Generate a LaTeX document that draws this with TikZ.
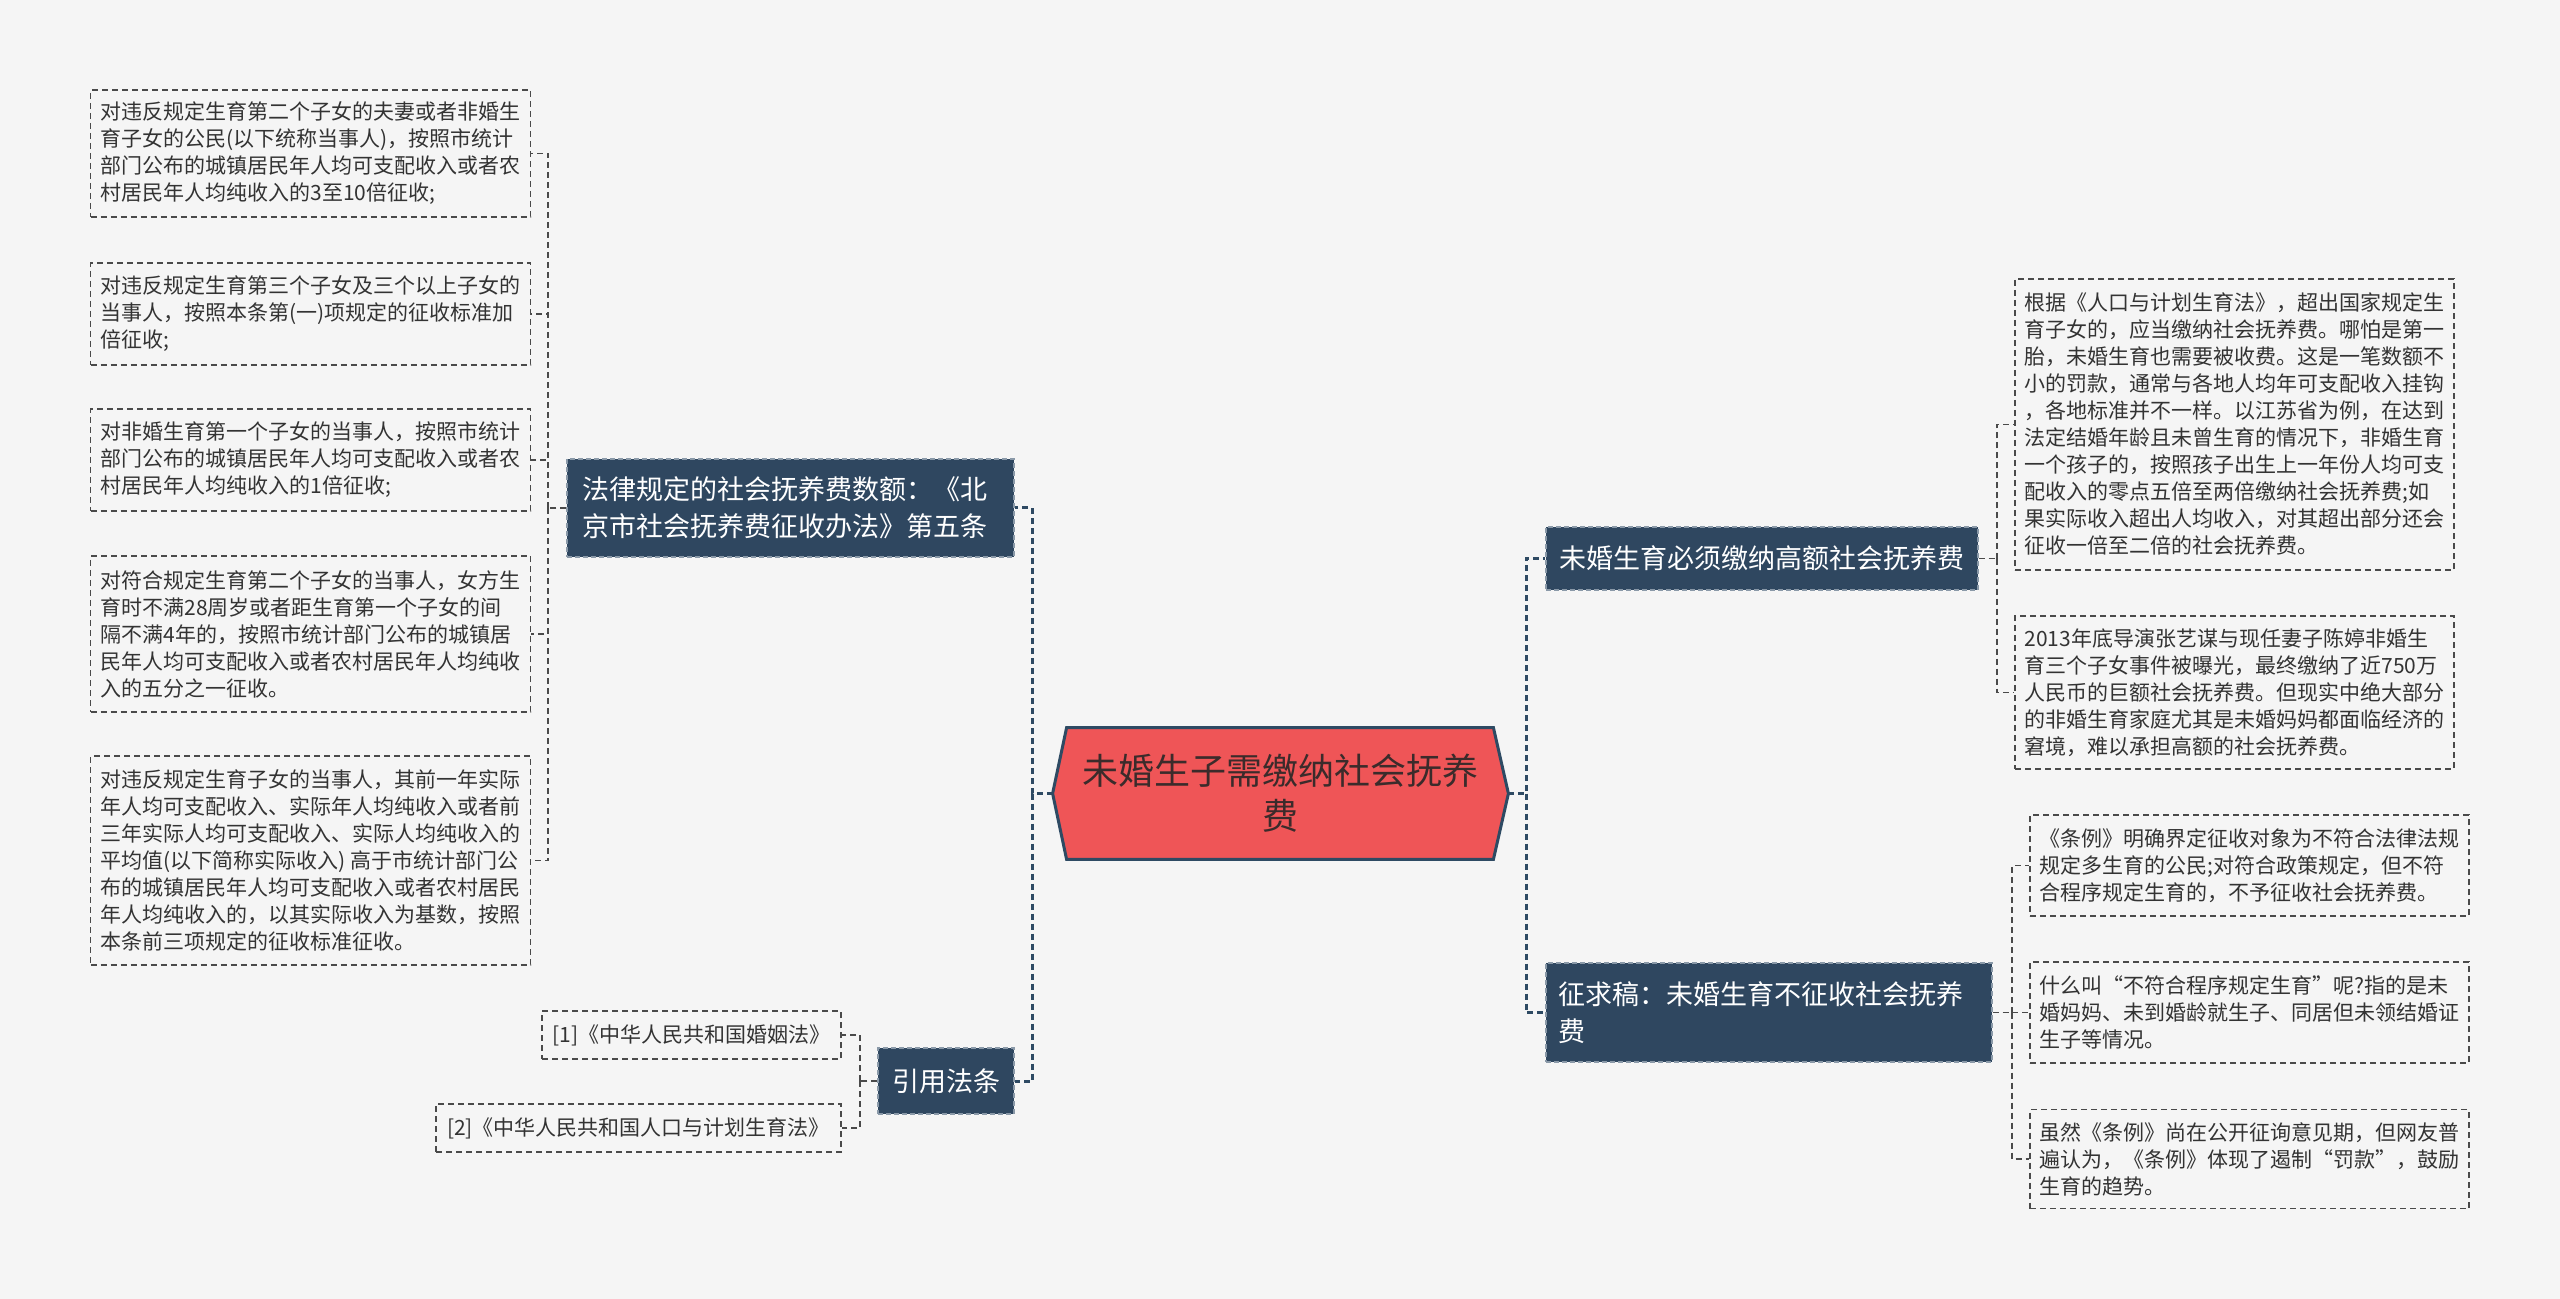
\documentclass[tikz,border=0pt]{standalone}
\usepackage{fontspec}
\newfontfamily\cjk{Noto Sans CJK SC}
\usetikzlibrary{backgrounds}
\definecolor{bg}{HTML}{F5F5F5}
\definecolor{leafline}{HTML}{4A4A4A}
\definecolor{leaftext}{HTML}{333333}
\definecolor{topicfill}{HTML}{2F4760}
\definecolor{topicline}{HTML}{8A99A8}
\definecolor{mainline}{HTML}{2E4A63}
\definecolor{hexfill}{HTML}{EF5557}
\definecolor{hextext}{HTML}{3B2B2B}
\begin{document}
\begin{tikzpicture}[x=0.5pt,y=-0.5pt,
  leaf/.style={draw=leafline, dash pattern=on 3pt off 2pt, line width=0.6pt, fill=bg,
    font=\cjk\fontsize{10.5pt}{13.5pt}\selectfont, text=leaftext, align=left,
    inner sep=0pt, minimum width=220pt, anchor=center},
  topic/.style={fill=topicfill, draw=topicline, dash pattern=on 2.5pt off 1.5pt, line width=0.6pt,
    text=white, font=\cjk\fontsize{13.5pt}{18.5pt}\selectfont, align=left, inner sep=0pt, anchor=center},
  mainedge/.style={draw=mainline, line width=1.5pt, dash pattern=on 3pt off 2pt},
  subedge/.style={draw=leafline, line width=0.6pt, dash pattern=on 3pt off 2pt},
  hexshape/.style={fill=hexfill, draw=mainline, line width=1.5pt, line join=miter}
]
\useasboundingbox (0,0) rectangle (2560,1299);

% central topic
\node[font=\cjk\fontsize{18pt}{22.5pt}\selectfont, text=hextext, align=center,
      minimum width=227.5pt, minimum height=65.5pt, inner sep=0pt] (C) at (1280.5,793.5)
  {未婚生子需缴纳社会抚养\\费};

% main topics
\node[topic, text width=208.5pt, inner xsep=7.5pt, minimum height=49pt] (D1) at (790.5,508)
  {法律规定的社会抚养费数额：《北\\京市社会抚养费征收办法》第五条};
\node[topic, minimum width=68pt, minimum height=33pt] (D2) at (946,1081) {引用法条};
\node[topic, minimum width=216pt, minimum height=31.5pt] (D3) at (1762,558.5)
  {未婚生育必须缴纳高额社会抚养费};
\node[topic, text width=211pt, inner xsep=6pt, minimum height=49.5pt] (D4) at (1769,1012.5)
  {征求稿：未婚生育不征收社会抚养\\费};

% left leaves
\node[leaf, minimum height=63.5pt] (L1) at (310.5,153.5)
  {对违反规定生育第二个子女的夫妻或者非婚生\\育子女的公民(以下统称当事人)，按照市统计\\部门公布的城镇居民年人均可支配收入或者农\\村居民年人均纯收入的3至10倍征收;};
\node[leaf, minimum height=51pt] (L2) at (310.5,314)
  {对违反规定生育第三个子女及三个以上子女的\\当事人，按照本条第(一)项规定的征收标准加\\倍征收;};
\node[leaf, minimum height=51pt] (L3) at (310.5,460)
  {对非婚生育第一个子女的当事人，按照市统计\\部门公布的城镇居民年人均可支配收入或者农\\村居民年人均纯收入的1倍征收;};
\node[leaf, minimum height=78pt] (L4) at (310.5,634)
  {对符合规定生育第二个子女的当事人，女方生\\育时不满28周岁或者距生育第一个子女的间\\隔不满4年的，按照市统计部门公布的城镇居\\民年人均可支配收入或者农村居民年人均纯收\\入的五分之一征收。};
\node[leaf, minimum height=104.5pt] (L5) at (310.5,860.5)
  {对违反规定生育子女的当事人，其前一年实际\\年人均可支配收入、实际年人均纯收入或者前\\三年实际人均可支配收入、实际人均纯收入的\\平均值(以下简称实际收入) 高于市统计部门公\\布的城镇居民年人均可支配收入或者农村居民\\年人均纯收入的，以其实际收入为基数，按照\\本条前三项规定的征收标准征收。};

% citation leaves
\node[leaf, minimum width=149.5pt, minimum height=24pt] (K1) at (691.5,1035)
  {{[}1]《中华人民共和国婚姻法》};
\node[leaf, minimum width=202.5pt, minimum height=24pt] (K2) at (638.5,1128)
  {{[}2]《中华人民共和国人口与计划生育法》};

% right leaves
\node[leaf, minimum width=219.5pt, minimum height=145.5pt] (R1) at (2234.5,424.5)
  {根据《人口与计划生育法》，超出国家规定生\\育子女的，应当缴纳社会抚养费。哪怕是第一\\胎，未婚生育也需要被收费。这是一笔数额不\\小的罚款，通常与各地人均年可支配收入挂钩\\，各地标准并不一样。以江苏省为例，在达到\\法定结婚年龄且未曾生育的情况下，非婚生育\\一个孩子的，按照孩子出生上一年份人均可支\\配收入的零点五倍至两倍缴纳社会抚养费;如\\果实际收入超出人均收入，对其超出部分还会\\征收一倍至二倍的社会抚养费。};
\node[leaf, minimum width=219.5pt, minimum height=76.5pt] (R2) at (2234.5,692.5)
  {2013年底导演张艺谋与现任妻子陈婷非婚生\\育三个子女事件被曝光，最终缴纳了近750万\\人民币的巨额社会抚养费。但现实中绝大部分\\的非婚生育家庭尤其是未婚妈妈都面临经济的\\窘境，难以承担高额的社会抚养费。};
\node[leaf, minimum width=219.5pt, minimum height=50.5pt] (R3) at (2249.5,865.5)
  {《条例》明确界定征收对象为不符合法律法规\\规定多生育的公民;对符合政策规定，但不符\\合程序规定生育的，不予征收社会抚养费。};
\node[leaf, minimum width=219.5pt, minimum height=50.5pt] (R4) at (2249.5,1012.5)
  {什么叫“不符合程序规定生育”呢?指的是未\\婚妈妈、未到婚龄就生子、同居但未领结婚证\\生子等情况。};
\node[leaf, minimum width=219.5pt, minimum height=49.5pt] (R5) at (2249.5,1159)
  {虽然《条例》尚在公开征询意见期，但网友普\\遍认为，《条例》体现了遏制“罚款”，鼓励\\生育的趋势。};

% bus coordinates
\coordinate (busL) at (1032,793.5);
\coordinate (busR) at (1526,793.5);
\coordinate (busD1) at (548,508);
\coordinate (busD2) at (860,1081);
\coordinate (busD3) at (1997,558.5);
\coordinate (busD4) at (2012,1012.5);

% background and hexagon
\begin{pgfonlayer}{background}
  \fill[bg] (0,0) rectangle (2560,1299);
  \draw[hexshape] (C.west) -- ([xshift=7pt]C.north west) -- ([xshift=-7.5pt]C.north east)
     -- (C.east) -- ([xshift=-7.5pt]C.south east) -- ([xshift=7pt]C.south west) -- cycle;
\end{pgfonlayer}

% main connectors
\draw[mainedge] (C.west) -- (busL) |- (D1.east);
\draw[mainedge] (busL) |- (D2.east);
\draw[mainedge] (C.east) -- (busR) |- (D3.west);
\draw[mainedge] (busR) |- (D4.west);

% sub connectors
\draw[subedge] (D1.west) -- (busD1);
\foreach \n in {L1,L2,L3,L4,L5} \draw[subedge] (busD1) |- (\n.east);
\draw[subedge] (D2.west) -- (busD2);
\foreach \n in {K1,K2} \draw[subedge] (busD2) |- (\n.east);
\draw[subedge] (D3.east) -- (busD3);
\foreach \n in {R1,R2} \draw[subedge] (busD3) |- (\n.west);
\draw[subedge] (D4.east) -- (busD4);
\foreach \n in {R3,R4,R5} \draw[subedge] (busD4) |- (\n.west);
\end{tikzpicture}
\end{document}
